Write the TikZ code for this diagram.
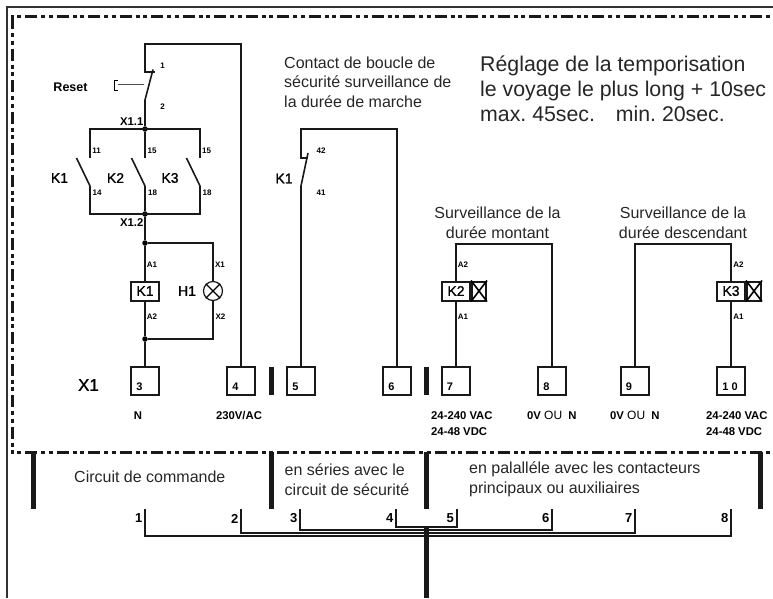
\documentclass[tikz,border=0pt]{standalone}
\usepackage{fontspec}
\setmainfont{Liberation Sans}
\newfontfamily\thickfont[FakeBold=1.2]{Liberation Sans}
\begin{document}
\begin{tikzpicture}[x=1pt, y=-1pt,
	wire/.style = {draw=black!90, line width=2pt},
	blade/.style = {draw=black!90, line width=1.6pt},
	dashframe/.style = {draw=black!90, line width=3pt, dash pattern=on 12pt off 4pt on 4pt off 3.5pt on 4pt off 4pt, dash phase=17.5pt},
	heavybar/.style = {draw=black!90, line width=5pt},
	dot/.style = {circle, fill=black, inner sep=0pt, minimum size=5.5pt},
	termbox/.style = {draw=black!90, line width=2pt, minimum width=28pt, minimum height=28pt, inner sep=0pt},
	coil/.style = {draw=black!90, line width=2pt, minimum width=28pt, minimum height=19pt, inner sep=0pt, font=\thickfont\fontsize{14}{14}\selectfont},
	crossbox/.style = {draw=black!90, line width=2pt, minimum width=14pt, minimum height=19pt, inner sep=0pt},
	lamp/.style = {draw=black!90, circle, line width=1.2pt, minimum size=19pt, inner sep=0pt, fill=white},
	pinlab/.style = {inner sep=0pt, font=\bfseries\fontsize{8}{8}\selectfont},
	taglab/.style = {inner sep=0pt, font=\bfseries\fontsize{11.3}{14}\selectfont},
	relay/.style = {inner sep=0pt, font=\thickfont\fontsize{14}{14}\selectfont},
	numlab/.style = {inner sep=0pt, font=\bfseries\fontsize{11}{11}\selectfont},
	note/.style = {inner sep=0pt, align=left, font=\fontsize{16}{19.7}\selectfont, text=black!85},
	bignote/.style = {inner sep=0pt, align=left, font=\frenchspacing\fontsize{21.3}{25}\selectfont, text=black!85}]
	
	\useasboundingbox (0,0) rectangle (773,598);
	
	% frames
	\draw[line width=1.5pt, draw=black!80] (7,598) -- (7,7) -- (773,7);
	\draw[dashframe] (11,16) -- (773,16);
	\draw[dashframe, dash phase=0pt] (12.5,17) -- (12.5,452);
	\draw[dashframe] (11,452) -- (773,452);
	
	% terminals
	\foreach \name/\x/\numx/\lab in {3/145/139.5/3, 4/241/235.5/4, 5/301/295.5/5, 6/397/391.5/6, 7/456/450/7, 8/552/546.5/8, 9/634.5/629/9, 10/731/730/{1 0}} {
		\node[termbox] (t\name) at (\x,381) {};
		\node[numlab] (n\name) at (\numx,387) {\lab};
	}
	\draw[heavybar] (271,367) -- (271,395);
	\draw[heavybar] (426.5,367) -- (426.5,395);
	
	\node[relay, font=\thickfont\fontsize{17}{17}\selectfont] (x1) at (88.5,385) {X1};
	
	% reset and auxiliary contacts
	\coordinate (top1) at (145,44);
	\coordinate (fix1) at (145,72);
	\coordinate (end1) at (155,72);
	\coordinate (tip1) at (153,69.5);
	\coordinate (low1) at (145,100);
	\node[dot] (j1) at (145,129) {};
	\node[dot] (j2) at (145,214) {};
	\node[dot] (j3) at (145,243) {};
	\node[dot] (j4) at (145,339) {};
	
	\draw[wire] (t4.north) |- (top1) -- (fix1) -- (end1);
	\draw[blade] (tip1) -- (low1);
	\draw[wire] (low1) -- (j1);
	
	\coordinate (btn1) at (118,80);
	\coordinate (btn2) at (118,90);
	\coordinate (btn3) at (118,84.5);
	\coordinate (btn4) at (144,84.5);
	\draw[line width=0.8pt] (btn1) -- ++(-4,0) |- (btn2);
	\draw[line width=0.8pt, draw=black!70] (btn3) -- (btn4);
	
	\foreach \name/\x in {a/90, b/145, c/200} {
		\coordinate (up\name) at (\x,158);
		\coordinate (dn\name) at (\x,186);
		\coordinate (op\name) at (\x-13.5,158);
		\draw[blade] (op\name) -- (dn\name);
	}
	\coordinate (bar1) at (90,129);
	\coordinate (bar2) at (200,129);
	\coordinate (bar3) at (90,214);
	\coordinate (bar4) at (200,214);
	\draw[wire] (upa) -- (bar1) -- (bar2) -- (upc);
	\draw[wire] (j1) -- (upb);
	\draw[wire] (dna) -- (bar3) -- (bar4) -- (dnc);
	\draw[wire] (dnb) -- (j2) -- (j3);
	
	% K1 coil and lamp
	\node[coil] (k1) at (145,291) {K1};
	\node[lamp] (h1) at (213,291) {};
	\draw[line width=1.2pt] (h1.45) -- (h1.225);
	\draw[line width=1.2pt] (h1.135) -- (h1.315);
	\coordinate (lampa) at (213,243);
	\coordinate (lampb) at (213,339);
	\draw[wire] (j3) -- (k1);
	\draw[wire] (k1) -- (j4) -- (t3);
	\draw[wire] (j3) -- (lampa) -- (h1);
	\draw[wire] (h1) -- (lampb) -- (j4);
	
	% K1 contact
	\coordinate (top2) at (301,129);
	\coordinate (end2) at (308,158);
	\coordinate (fix2) at (301,158);
	\coordinate (tip2) at (308,153);
	\coordinate (low2) at (301,186);
	\draw[wire] (t6.north) |- (top2) -- (fix2) -- (end2);
	\draw[blade] (tip2) -- (low2);
	\draw[wire] (low2) -- (t5);
	
	% K2 and K3 coils
	\node[coil] (k2) at (456,291) {K2};
	\node[crossbox, anchor=west] (x2) at (k2.east) {};
	\node[coil] (k3) at (731,291) {K3};
	\node[crossbox, anchor=west] (x3) at (k3.east) {};
	\foreach \cbox in {x2, x3} {
		\draw[line width=1.6pt] (\cbox.north west) -- (\cbox.south east);
		\draw[line width=1.6pt] (\cbox.north east) -- (\cbox.south west);
	}
	\coordinate (top3) at (456,244);
	\coordinate (top4) at (731,244);
	\draw[wire] (k2) -- (t7);
	\draw[wire] (k2.north) -- (top3) -| (t8.north);
	\draw[wire] (k3) -- (t10);
	\draw[wire] (k3.north) -- (top4) -| (t9.north);
	
	% pin labels
	\node[pinlab] (p1) at (162.5,65.5) {1};
	\node[pinlab] (p2) at (162.5,107) {2};
	\node[pinlab] (p3) at (96.5,151) {11};
	\node[pinlab] (p4) at (152,151) {15};
	\node[pinlab] (p5) at (206.5,151) {15};
	\node[pinlab] (p6) at (97,192.5) {14};
	\node[pinlab] (p7) at (152.5,192.5) {18};
	\node[pinlab] (p8) at (207,192.5) {18};
	\node[pinlab] (p9) at (152,265) {A1};
	\node[pinlab] (p10) at (152,316.5) {A2};
	\node[pinlab] (p11) at (220,265) {X1};
	\node[pinlab] (p12) at (220.5,316.5) {X2};
	\node[pinlab] (p13) at (321,151) {42};
	\node[pinlab] (p14) at (321,192.5) {41};
	\node[pinlab] (p15) at (463,265) {A2};
	\node[pinlab] (p16) at (463,316.5) {A1};
	\node[pinlab] (p17) at (738.5,265) {A2};
	\node[pinlab] (p18) at (738.5,316.5) {A1};
	
	\node[taglab, anchor=east] (m1) at (143.5,122) {X1.1};
	\node[taglab, anchor=east] (m2) at (143.5,222.5) {X1.2};
	\node[taglab, font=\bfseries\fontsize{12.5}{12.5}\selectfont] (reset) at (70.5,87.5) {Reset};
	\node[relay] (r1) at (59.5,178) {K1};
	\node[relay] (r2) at (115.5,178) {K2};
	\node[relay] (r3) at (170,178) {K3};
	\node[relay] (r4) at (284,178.5) {K1};
	\node[relay] (r5) at (187,291) {H1};
	
	% supply labels
	\node[taglab] (s1) at (138,415.5) {N};
	\node[taglab] (s2) at (239,415.5) {230V/AC};
	\node[taglab, anchor=west] (s3) at (431,415.5) {24-240 VAC};
	\node[taglab, anchor=west] (s4) at (431,431.5) {24-48 VDC};
	\node[taglab, anchor=west] (s5) at (527,415.5) {0V {\normalfont\fontsize{12}{12}\selectfont OU}\ \ N};
	\node[taglab, anchor=west] (s6) at (610,415.5) {0V {\normalfont\fontsize{12}{12}\selectfont OU}\ \ N};
	\node[taglab, anchor=west] (s7) at (706,415.5) {24-240 VAC};
	\node[taglab, anchor=west] (s8) at (706,431.5) {24-48 VDC};
	
	% notes
	\node[note, anchor=west] (c1) at (284,82) {Contact de boucle de\\sécurité surveillance de\\la durée de marche};
	\node[bignote, anchor=west] (c2) at (480,89) {Réglage de la temporisation\\le voyage le plus long + 10sec\\max. 45sec.\hspace{0.7em} min. 20sec.};
	\node[note, align=center] (c3) at (497.5,222.5) {Surveillance de la\\durée montant};
	\node[note, align=center] (c4) at (683,222.5) {Surveillance de la\\durée descendant};
	
	% lower part
	\foreach \x in {33, 271, 426.5, 760} {
		\draw[heavybar] (\x,452) -- (\x,509);
	}
	\node[note, anchor=west] (c5) at (74,476.5) {Circuit de commande};
	\node[note, anchor=west] (c6) at (284.5,479.5) {en séries avec le\\circuit de sécurité};
	\node[note, anchor=west] (c7) at (469,479.5) {en palalléle avec les contacteurs\\principaux ou auxiliaires};
	
	\foreach \name/\x in {1/145, 2/241, 3/300, 4/396, 5/456.5, 6/552, 7/635, 8/731} {
		\coordinate (b\name) at (\x,509);
		\node[numlab, font=\bfseries\fontsize{13}{13}\selectfont, anchor=east] (l\name) at (\x-2.5,518.5) {\name};
	}
	\draw[wire] (b1) -- ++(0,27) -| (b8);
	\draw[wire] (b2) -- ++(0,24) -| (b7);
	\draw[wire] (b3) -- ++(0,20.5) -| (b6);
	\draw[wire] (b4) -- ++(0,18) -| (b5);
	\coordinate (trunk1) at (426.5,527);
	\coordinate (trunk2) at (426.5,598);
	\draw[heavybar] (trunk1) -- (trunk2);
	
\end{tikzpicture}
\end{document}
